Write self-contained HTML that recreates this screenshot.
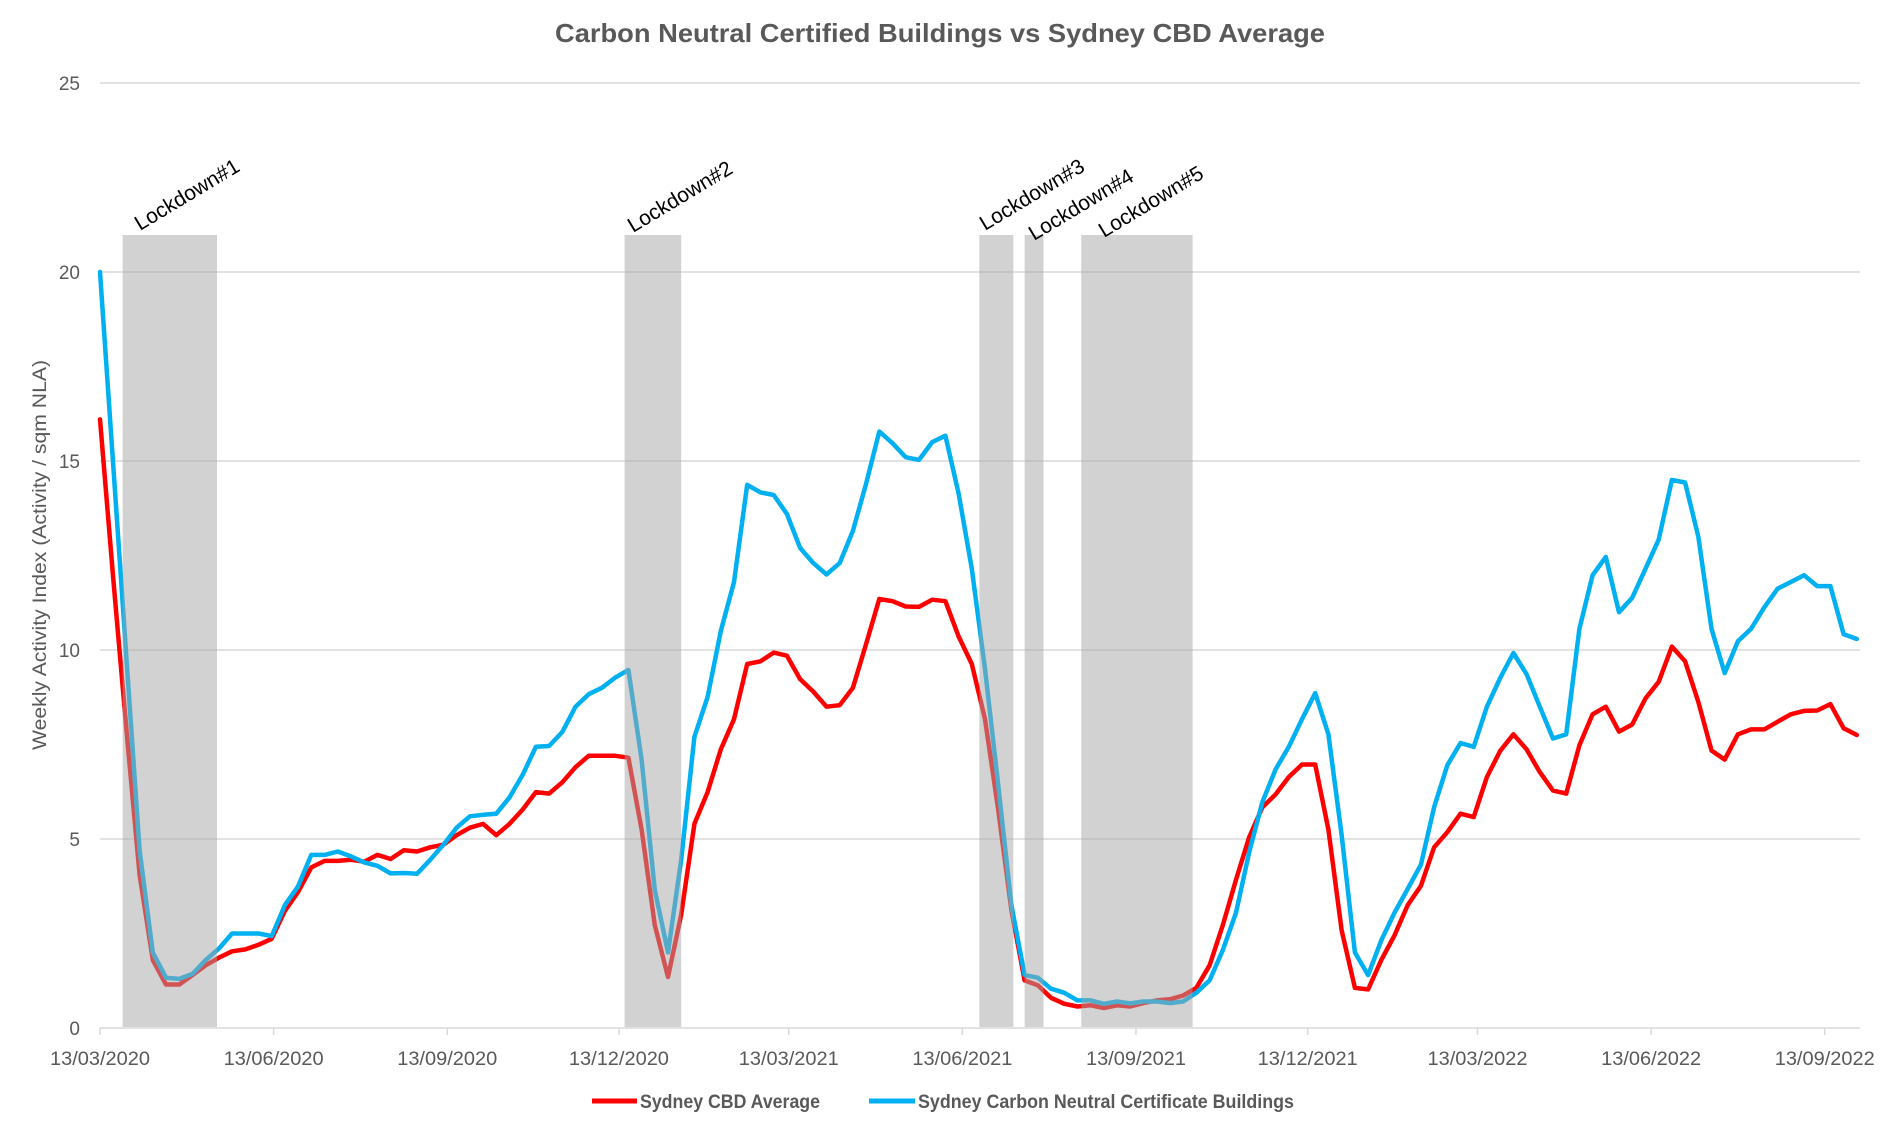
<!DOCTYPE html>
<html><head><meta charset="utf-8"><style>
html,body{margin:0;padding:0;background:#fff;}
svg{display:block;font-family:"Liberation Sans",sans-serif;}
</style></head><body>
<svg id="chart" width="1883" height="1125" viewBox="0 0 1883 1125" xmlns="http://www.w3.org/2000/svg">
<rect x="0" y="0" width="1883" height="1125" fill="#fff"/>
<text x="940" y="42" text-anchor="middle" font-size="26" font-weight="bold" fill="#595959" textLength="770" lengthAdjust="spacingAndGlyphs">Carbon Neutral Certified Buildings vs Sydney CBD Average</text>
<text transform="translate(46,555) rotate(-90)" text-anchor="middle" font-size="19" fill="#595959" textLength="390" lengthAdjust="spacingAndGlyphs">Weekly Activity Index (Activity / sqm NLA)</text>
<g id="grid"></g>
<g id="yticks"></g>
<g id="xaxis"></g>
<g id="series"></g>
<g id="shades"></g>
<g id="legend">
  <g>
    <line x1="592" y1="1101" x2="637" y2="1101" stroke="#ff0000" stroke-width="5"/>
    <text x="640" y="1108" font-size="19" font-weight="bold" fill="#595959" textLength="180" lengthAdjust="spacingAndGlyphs">Sydney CBD Average</text>
  </g>
  <g>
    <line x1="869" y1="1101" x2="915" y2="1101" stroke="#00b0f0" stroke-width="5"/>
    <text x="918" y="1108" font-size="19" font-weight="bold" fill="#595959" textLength="376" lengthAdjust="spacingAndGlyphs">Sydney Carbon Neutral Certificate Buildings</text>
  </g>
</g>
</svg>
<script>
const yTicks = [0, 5, 10, 15, 20, 25];
const xTickLabels = ["13/03/2020","13/06/2020","13/09/2020","13/12/2020","13/03/2021","13/06/2021","13/09/2021","13/12/2021","13/03/2022","13/06/2022","13/09/2022"];
const xTickDays = [0, 92, 184, 275, 365, 457, 549, 640, 730, 822, 914];
const cbdAverage = [16.1,11.9,7.9,4.05,1.8,1.15,1.15,1.4,1.66,1.86,2.03,2.08,2.2,2.36,3.1,3.6,4.25,4.42,4.42,4.45,4.4,4.58,4.47,4.7,4.67,4.78,
4.85,5.1,5.3,5.4,5.1,5.4,5.78,6.24,6.2,6.5,6.9,7.2,7.2,7.2,7.15,5.25,2.72,1.35,3.0,5.4,6.24,7.37,8.17,9.63,
9.7,9.93,9.85,9.23,8.9,8.5,8.54,9.0,10.16,11.35,11.29,11.15,11.14,11.33,11.29,10.36,9.63,8.17,5.78,3.12,1.26,1.13,0.8,0.64,0.57,
0.6,0.53,0.6,0.57,0.66,0.73,0.76,0.86,1.06,1.66,2.72,3.92,5.05,5.84,6.18,6.64,6.97,6.97,5.25,2.59,1.06,1.02,1.8,2.45,3.25,
3.76,4.78,5.18,5.67,5.58,6.64,7.33,7.77,7.37,6.77,6.28,6.2,7.48,8.3,8.5,7.84,8.03,8.72,9.16,10.09,9.7,8.63,7.34,7.1,7.77,
7.9,7.9,8.1,8.3,8.39,8.4,8.57,7.93,7.75];
const carbonNeutral = [20.0,14.9,9.8,4.7,2.0,1.33,1.3,1.43,1.8,2.1,2.5,2.5,2.5,2.43,3.25,3.75,4.58,4.58,4.67,4.54,4.38,4.29,4.09,4.1,4.08,4.45,
4.85,5.3,5.6,5.64,5.67,6.1,6.7,7.44,7.46,7.83,8.5,8.83,9.0,9.27,9.47,7.1,3.65,2.0,4.45,7.7,8.76,10.5,11.8,14.37,
14.17,14.1,13.6,12.7,12.3,12.0,12.3,13.15,14.4,15.78,15.47,15.1,15.03,15.5,15.67,14.14,12.15,9.5,6.44,3.25,1.4,1.33,1.04,0.93,0.73,
0.73,0.64,0.7,0.65,0.7,0.7,0.66,0.7,0.93,1.26,2.06,3.05,4.65,5.98,6.84,7.44,8.17,8.86,7.77,5.11,2.0,1.4,2.32,3.05,3.68,
4.32,5.84,6.95,7.54,7.44,8.5,9.26,9.92,9.36,8.5,7.66,7.77,10.56,11.98,12.46,11.0,11.38,12.15,12.92,14.5,14.43,13.0,10.56,9.39,10.23,
10.56,11.13,11.62,11.8,11.98,11.69,11.69,10.42,10.29];
const lockdownLabels = ["Lockdown#1","Lockdown#2","Lockdown#3","Lockdown#4","Lockdown#5"];
const lockdownStartDays = [12, 278, 466, 490, 520];
const lockdownEndDays = [62, 308, 484, 500, 579];

const NS = "http://www.w3.org/2000/svg";
const X0 = 100, PX_PER_DAY = 1.887, Y0 = 1028, PX_PER_UNIT = 37.8, XEND = 1860;
function xDay(d){ return X0 + d * PX_PER_DAY; }
function xWeek(w){ return xDay(w * 7); }
function yVal(v){ return Y0 - v * PX_PER_UNIT; }
function mk(tag, attrs, parent){
  const el = document.createElementNS(NS, tag);
  for (const k in attrs) el.setAttribute(k, attrs[k]);
  parent.appendChild(el);
  return el;
}
const grid = document.getElementById('grid');
const yt = document.getElementById('yticks');
yTicks.forEach(v => {
  if (v > 0) {
    const g = mk('line', {x1: X0, x2: XEND, y1: yVal(v), y2: yVal(v), stroke: '#d9d9d9', 'stroke-width': 1.5}, grid);
    
    
  }
  const t = mk('text', {x: 80, y: yVal(v) + 7, 'text-anchor': 'end', 'font-size': 19, fill: '#595959'}, yt);
  t.textContent = v;
  
  
});
const xa = document.getElementById('xaxis');
const axisLine = mk('line', {x1: X0, x2: XEND, y1: Y0, y2: Y0, stroke: '#d9d9d9', 'stroke-width': 1.5}, xa);


xTickLabels.forEach((lab, i) => {
  const x = xDay(xTickDays[i]);
  const tk = mk('line', {x1: x, x2: x, y1: Y0, y2: Y0 + 7, stroke: '#d9d9d9', 'stroke-width': 1.5}, xa);
  
  
  const t = mk('text', {x: x, y: 1065, 'text-anchor': 'middle', 'font-size': 19, fill: '#595959', textLength: 100, lengthAdjust: 'spacingAndGlyphs'}, xa);
  t.textContent = lab;
  
  
});
const ser = document.getElementById('series');
function drawLine(vals, color, name){
  const pts = vals.map((v, w) => xWeek(w).toFixed(1) + ',' + yVal(v).toFixed(1)).join(' ');
  const p = mk('polyline', {points: pts, fill: 'none', stroke: color, 'stroke-width': 4.5, 'stroke-linejoin': 'round', 'stroke-linecap': 'round'}, ser);
  
  
}
drawLine(cbdAverage, '#ff0000', 'line-sydney-cbd-average');
drawLine(carbonNeutral, '#00b0f0', 'line-carbon-neutral-buildings');
const sh = document.getElementById('shades');
lockdownLabels.forEach((lab, i) => {
  const x1 = xDay(lockdownStartDays[i]), x2 = xDay(lockdownEndDays[i]);
  const r = mk('rect', {x: x1, y: 235, width: x2 - x1, height: Y0 - 1 - 235, fill: '#a6a6a6', 'fill-opacity': 0.5}, sh);
  
  
  const lx = [140, 633, 985, 1034, 1104][i];
  const ly = [231, 233, 231, 241, 238][i];
  const t = mk('text', {x: lx, y: ly, 'font-size': 21, fill: '#000', transform: 'rotate(-31 ' + lx + ' ' + ly + ')'}, sh);
  t.textContent = lab;
  
  
});
</script>
</body></html>
